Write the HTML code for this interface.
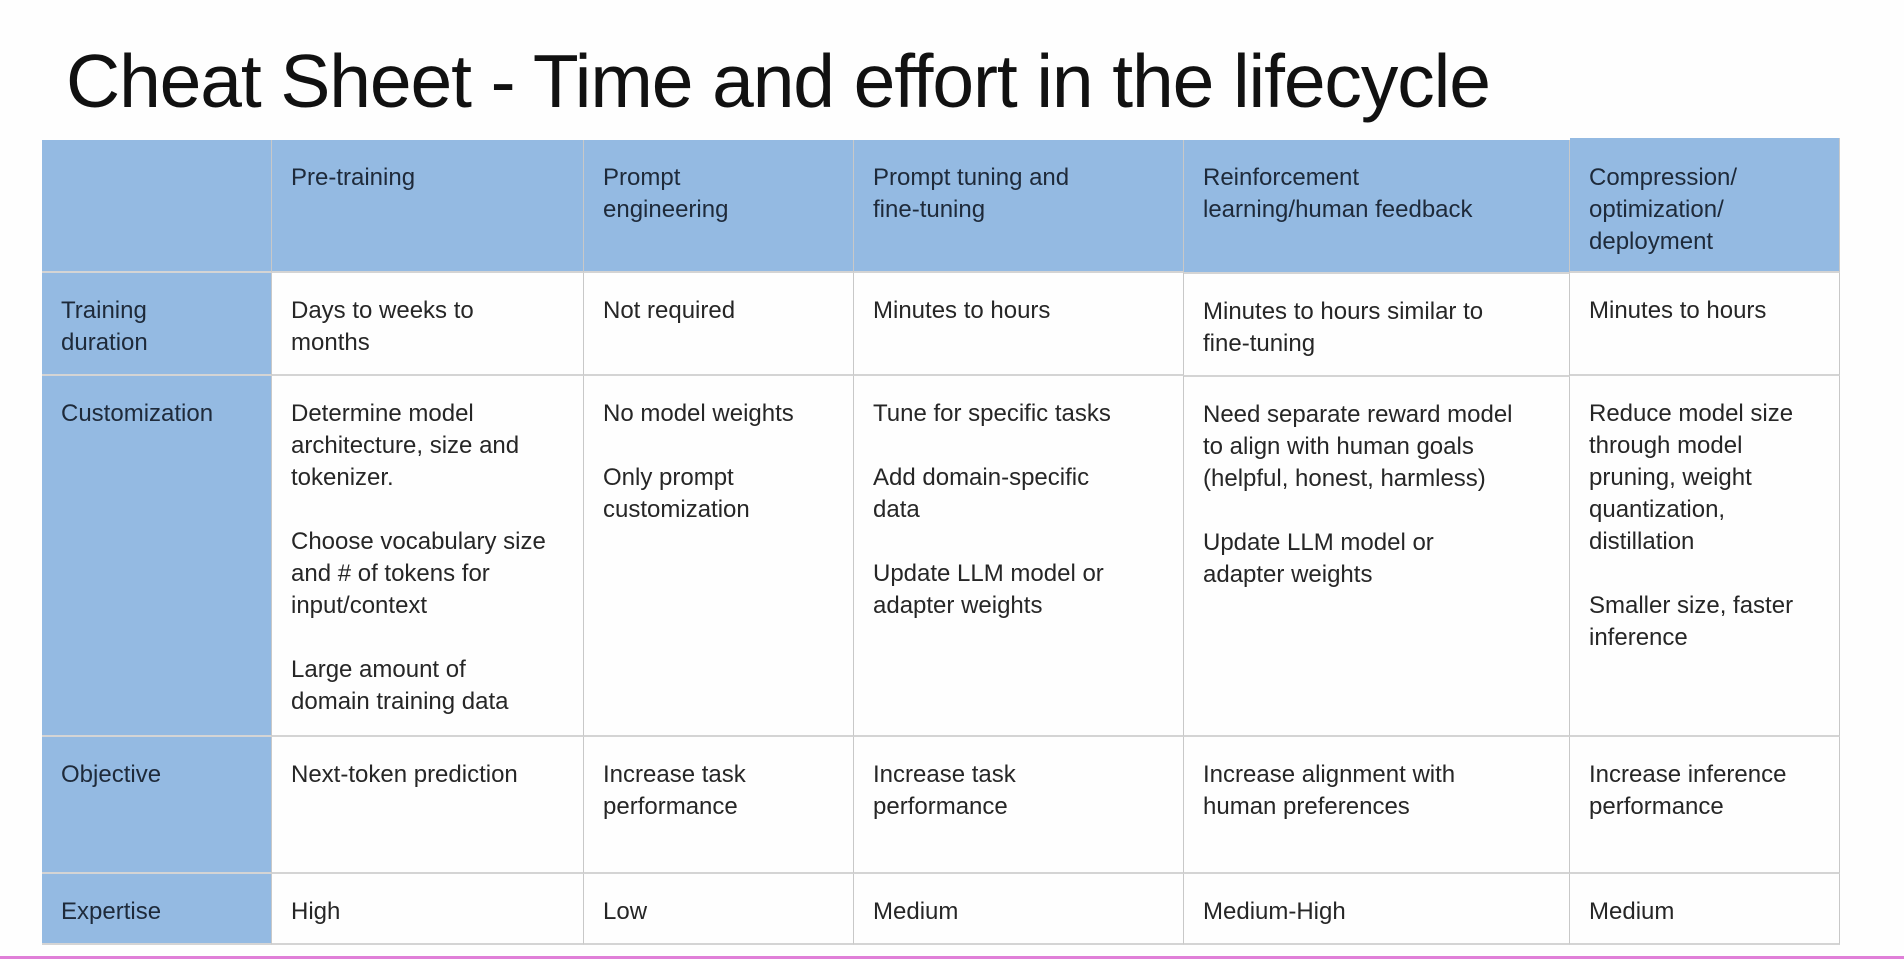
<!DOCTYPE html>
<html><head><meta charset="utf-8"><style>
body{margin:0;width:1904px;height:959px;background:#fefefe;overflow:hidden;position:relative;font-family:"Liberation Sans",sans-serif;color:#262626}
h1{position:absolute;left:66px;top:38px;margin:0;font-weight:normal;font-size:75px;color:#111;letter-spacing:-1.1px}
.c{position:absolute;box-sizing:border-box;border-right:1px solid #c8c8c8;border-bottom:2px solid #d4d4d4;padding:22px 10px 0 19px;font-size:24px;line-height:32px}
.b{background:#94bae2;color:#1e2a3a}
.p{margin:0 0 32px 0}
.bot{position:absolute;left:0;top:956px;width:1904px;height:3px;background:#e07fd8}
</style></head><body>
<h1>Cheat Sheet - Time and effort in the lifecycle</h1>
<!-- header row -->
<div class="c b" style="left:42px;top:140px;width:230px;height:133px"></div>
<div class="c b" style="left:272px;top:140px;width:312px;height:133px">Pre-training</div>
<div class="c b" style="left:584px;top:140px;width:270px;height:133px">Prompt<br>engineering</div>
<div class="c b" style="left:854px;top:140px;width:330px;height:133px">Prompt tuning and<br>fine-tuning</div>
<div class="c b" style="left:1184px;top:140px;width:386px;height:134px">Reinforcement<br>learning/human feedback</div>
<div class="c b" style="left:1570px;top:138px;width:270px;height:135px;padding-top:24px">Compression/<br>optimization/<br>deployment</div>
<!-- row 1 -->
<div class="c b" style="left:42px;top:273px;width:230px;height:103px">Training<br>duration</div>
<div class="c" style="left:272px;top:273px;width:312px;height:103px">Days to weeks to<br>months</div>
<div class="c" style="left:584px;top:273px;width:270px;height:103px">Not required</div>
<div class="c" style="left:854px;top:273px;width:330px;height:103px">Minutes to hours</div>
<div class="c" style="left:1184px;top:274px;width:386px;height:103px">Minutes to hours similar to<br>fine-tuning</div>
<div class="c" style="left:1570px;top:273px;width:270px;height:103px">Minutes to hours</div>
<!-- row 2 -->
<div class="c b" style="left:42px;top:376px;width:230px;height:361px">Customization</div>
<div class="c" style="left:272px;top:376px;width:312px;height:361px"><p class="p">Determine model<br>architecture, size and<br>tokenizer.</p><p class="p">Choose vocabulary size<br>and # of tokens for<br>input/context</p><p class="p">Large amount of<br>domain training data</p></div>
<div class="c" style="left:584px;top:376px;width:270px;height:361px"><p class="p">No model weights</p><p class="p">Only prompt<br>customization</p></div>
<div class="c" style="left:854px;top:376px;width:330px;height:361px"><p class="p">Tune for specific tasks</p><p class="p">Add domain-specific<br>data</p><p class="p">Update LLM model or<br>adapter weights</p></div>
<div class="c" style="left:1184px;top:377px;width:386px;height:360px"><p class="p">Need separate reward model<br>to align with human goals<br>(helpful, honest, harmless)</p><p class="p">Update LLM model or<br>adapter weights</p></div>
<div class="c" style="left:1570px;top:376px;width:270px;height:361px"><p class="p">Reduce model size<br>through model<br>pruning, weight<br>quantization,<br>distillation</p><p class="p">Smaller size, faster<br>inference</p></div>
<!-- row 3 -->
<div class="c b" style="left:42px;top:737px;width:230px;height:137px">Objective</div>
<div class="c" style="left:272px;top:737px;width:312px;height:137px">Next-token prediction</div>
<div class="c" style="left:584px;top:737px;width:270px;height:137px">Increase task<br>performance</div>
<div class="c" style="left:854px;top:737px;width:330px;height:137px">Increase task<br>performance</div>
<div class="c" style="left:1184px;top:737px;width:386px;height:137px">Increase alignment with<br>human preferences</div>
<div class="c" style="left:1570px;top:737px;width:270px;height:137px">Increase inference<br>performance</div>
<!-- row 4 -->
<div class="c b" style="left:42px;top:874px;width:230px;height:71px">Expertise</div>
<div class="c" style="left:272px;top:874px;width:312px;height:71px">High</div>
<div class="c" style="left:584px;top:874px;width:270px;height:71px">Low</div>
<div class="c" style="left:854px;top:874px;width:330px;height:71px">Medium</div>
<div class="c" style="left:1184px;top:874px;width:386px;height:71px">Medium-High</div>
<div class="c" style="left:1570px;top:874px;width:270px;height:71px">Medium</div>
<div class="bot"></div>
</body></html>
